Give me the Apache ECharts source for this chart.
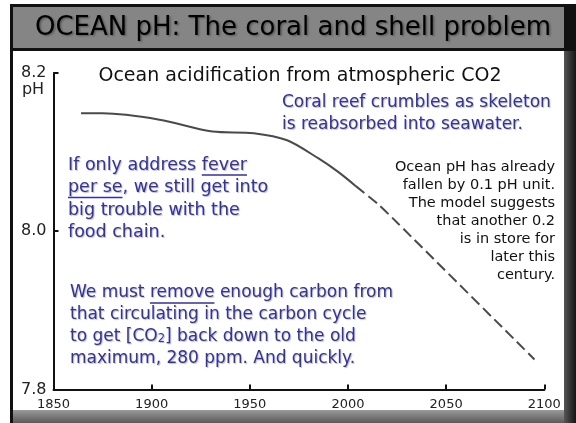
<!DOCTYPE html>
<html>
<head>
<meta charset="utf-8">
<script src="https://cdn.jsdelivr.net/npm/echarts@6/dist/echarts.min.js"></script>
<style>
  html, body { margin: 0; padding: 0; background: #fff; }
  #chart { width: 576px; height: 423px; }
</style>
</head>
<body>
<div id="chart"></div>
<script>
// measured curve: observed part (solid) and model projection (dashed)
const histYears = [1864, 1875, 1904, 1931, 1952, 1969, 1985, 1995, 2004];
const histPH = [8.149, 8.149, 8.141, 8.126, 8.124, 8.115, 8.092, 8.075, 8.057];
const projYears = [2004, 2015, 2025, 2095];
const projPH = [8.057, 8.035, 8.011, 7.838];
const yTicks = [7.8, 8.0, 8.2];

const FONT = '"DejaVu Sans", "Comic Sans MS", sans-serif';
const BLUE = '#3232a0';

const leftBlock1 = ['If only address fever', 'per se, we still get into', 'big trouble with the', 'food chain.'];
const leftBlock2 = ['We must remove enough carbon from', 'that circulating in the carbon cycle',
  'to get [CO{sub|2}] back down to the old', 'maximum, 280 ppm. And quickly.'];
const coralText = ['Coral reef crumbles as skeleton', 'is reabsorbed into seawater.'];
const noteText = ['Ocean pH has already', 'fallen by 0.1 pH unit.', 'The model suggests',
  'that another 0.2', 'is in store for', 'later this', 'century.'];

function zip(a, b) { return a.map((v, i) => [v, b[i]]); }

// text width helper for the underlines
const ctx = document.createElement('canvas').getContext('2d');
function tw(s, size) { ctx.font = size + 'px ' + FONT; return ctx.measureText(s).width; }

const blueShadow = { textShadowColor: 'rgba(60,60,60,0.35)', textShadowOffsetX: 1, textShadowOffsetY: 1, textShadowBlur: 1 };

let graphics = [
  // slide frame
  { type: 'rect', z: -10, shape: { x: 10, y: 4, width: 566, height: 419 }, style: { fill: '#111' } },
  { type: 'rect', z: -9, shape: { x: 13, y: 7, width: 551, height: 41 }, style: { fill: '#858585' } },
  { type: 'rect', z: -9, shape: { x: 13, y: 410, width: 551, height: 13 },
    style: { fill: new echarts.graphic.LinearGradient(0, 0, 0, 1, [{ offset: 0, color: '#9a9a9a' }, { offset: 1, color: '#5a5a5a' }]) } },
  { type: 'rect', z: -9, shape: { x: 564, y: 51, width: 12, height: 372 },
    style: { fill: new echarts.graphic.LinearGradient(0, 0, 1, 0, [{ offset: 0, color: '#555' }, { offset: 1, color: '#151515' }]) } },
  { type: 'rect', z: -8, shape: { x: 13, y: 51, width: 551, height: 359 }, style: { fill: '#fff' } },
  // slide title
  { type: 'text', z: 100, style: { text: 'OCEAN pH: The coral and shell problem', x: 293, y: 28, align: 'center', verticalAlign: 'middle',
      font: '26px ' + FONT, fill: '#000', textShadowColor: 'rgba(0,0,0,0.35)', textShadowOffsetX: 1.5, textShadowOffsetY: 1.5, textShadowBlur: 2 } },
  // chart title
  { type: 'text', z: 100, style: { text: 'Ocean acidification from atmospheric CO2', x: 300, y: 76, align: 'center', verticalAlign: 'middle',
      font: '19px ' + FONT, fill: '#111' } },
  { type: 'text', z: 100, style: { text: 'pH', x: 33, y: 90, align: 'center', verticalAlign: 'middle', font: '16px ' + FONT, fill: '#222' } }
];

coralText.forEach((t, i) => {
  graphics.push({ type: 'text', z: 100, style: Object.assign({ text: t, x: 282, y: 103 + i * 22, align: 'left', verticalAlign: 'middle',
    font: '17px ' + FONT, fill: BLUE }, blueShadow) });
});
leftBlock1.forEach((t, i) => {
  graphics.push({ type: 'text', z: 100, style: Object.assign({ text: t, x: 68, y: 165 + i * 22.5, align: 'left', verticalAlign: 'middle',
    font: '17.5px ' + FONT, fill: BLUE }, blueShadow) });
});
leftBlock2.forEach((t, i) => {
  graphics.push({ type: 'text', z: 100, style: Object.assign({ text: t, x: 70, y: 293 + i * 22, align: 'left', verticalAlign: 'middle',
    font: '17px ' + FONT, fill: BLUE, rich: { sub: { fontSize: 11.5, fontFamily: FONT, fill: BLUE, verticalAlign: 'bottom', padding: [5, 0, 0, 0] } } }, blueShadow) });
});
noteText.forEach((t, i) => {
  graphics.push({ type: 'text', z: 100, style: { text: t, x: 555, y: 167 + i * 18, align: 'right', verticalAlign: 'middle',
    font: '14.5px ' + FONT, fill: '#111' } });
});

// underlines: [line text, word, x0, yCenter, font size]
const unders = [
  [leftBlock1[0], 'fever', 68, 165, 17.5],
  [leftBlock1[1], 'per se', 68, 165 + 22.5, 17.5],
  [leftBlock2[0], 'remove', 70, 293, 17]
];
unders.forEach(u => {
  const start = u[2] + tw(u[0].slice(0, u[0].indexOf(u[1])), u[4]);
  const w = tw(u[1], u[4]);
  graphics.push({ type: 'line', z: 100, shape: { x1: start, y1: u[3] + 10, x2: start + w, y2: u[3] + 10 },
    style: { stroke: BLUE, lineWidth: 1.5 } });
});

const myChart = echarts.init(document.getElementById('chart'));
const option = {
  backgroundColor: '#fff',
  animation: false,
  grid: { left: 53.5, right: 31.7, top: 73, bottom: 33.5 },
  xAxis: {
    type: 'value', min: 1850, max: 2100, interval: 50,
    axisLine: { lineStyle: { color: '#111', width: 2 } },
    axisTick: { inside: true, length: 5, lineStyle: { color: '#111', width: 2 } },
    axisLabel: { color: '#222', fontSize: 13, fontFamily: FONT, margin: 9, formatter: v => String(v) },
    splitLine: { show: false }
  },
  yAxis: {
    type: 'value', min: yTicks[0], max: yTicks[yTicks.length - 1], interval: 0.2,
    axisLine: { show: true, lineStyle: { color: '#111', width: 2 } },
    axisTick: { show: true, inside: true, length: 5, lineStyle: { color: '#111', width: 2 } },
    axisLabel: { color: '#222', fontSize: 16, fontFamily: FONT, margin: 7, formatter: v => v.toFixed(1) },
    splitLine: { show: false }
  },
  series: [
    { name: 'observed', type: 'line', data: zip(histYears, histPH), showSymbol: false, smooth: 0.3,
      lineStyle: { color: '#4a4a4a', width: 2 } },
    { name: 'model', type: 'line', data: zip(projYears, projPH), showSymbol: false, smooth: 0.2,
      lineStyle: { color: '#4a4a4a', width: 2, type: [11, 5] } }
  ],
  graphic: graphics
};
myChart.setOption(option, true);
</script>
</body>
</html>
